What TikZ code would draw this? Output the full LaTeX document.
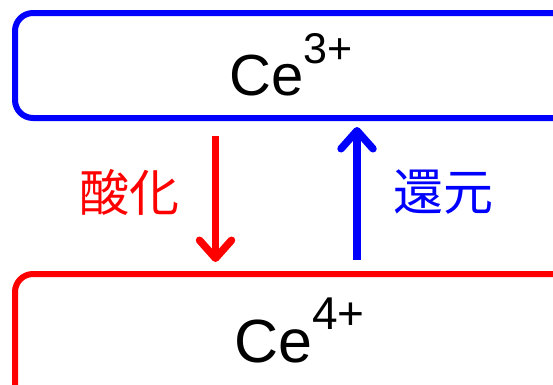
\documentclass[tikz,border=0pt]{standalone}
\usepackage{fontspec}
\setmainfont{Liberation Sans}
\newfontfamily\jpfont{Noto Sans CJK JP}
\usetikzlibrary{arrows.meta}
\definecolor{pureblue}{RGB}{0,0,255}
\definecolor{purered}{RGB}{255,0,0}
\tikzset{
  statebox/.style={draw, line width=6pt, rounded corners=18pt, minimum width=558pt, inner sep=0pt},
  redarrow/.style={draw=purered, line width=7.5pt, -{Straight Barb[length=18pt,width=32pt,round]}},
  bluearrow/.style={draw=pureblue, line width=7.5pt, -{Straight Barb[length=18pt,width=32pt,round]}},
  jplabel/.style={font=\jpfont\fontsize{50}{52}\selectfont, inner sep=0pt},
}
\begin{document}
\begin{tikzpicture}[x=1pt,y=-1pt]
\clip (0,0) rectangle (553,384);
\node[statebox, draw=pureblue, minimum height=105pt] (top) at (294,65.5) {};
\node[statebox, draw=purered, minimum height=170pt] (bot) at (294,359) {};
\node[anchor=base west, inner sep=0pt, font=\fontsize{58}{60}\selectfont] (ce3) at (229,95) {Ce\raisebox{32pt}{\fontsize{43}{45}\selectfont 3+}};
\node[anchor=base west, inner sep=0pt, font=\fontsize{61}{63}\selectfont] (ce4) at (234,362) {Ce\raisebox{33pt}{\fontsize{46}{48}\selectfont 4+}};
\coordinate (rs) at ([xshift=-78.5pt,yshift=-15pt]top.south);
\coordinate (re) at ([xshift=-78.5pt,yshift=9pt]bot.north);
\coordinate (bs) at ([xshift=63pt,yshift=11pt]bot.north);
\coordinate (be) at ([xshift=63pt,yshift=-6pt]top.south);
\draw[redarrow] (rs) -- (re);
\draw[bluearrow] (bs) -- (be);
\node[jplabel, text=purered] (ox) at (129,192) {酸化};
\node[jplabel, text=pureblue] (red) at (443,192) {還元};
\end{tikzpicture}
\end{document}
